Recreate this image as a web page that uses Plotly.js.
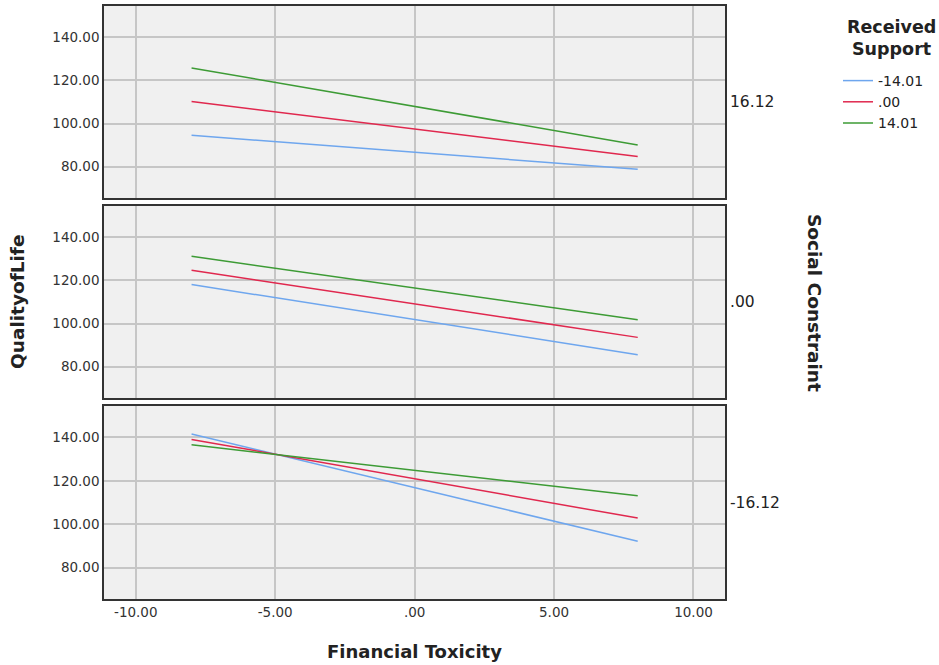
<!DOCTYPE html>
<html>
<head>
<meta charset="utf-8">
<script src="https://cdn.plot.ly/plotly-3.0.1.min.js"></script>
<style>html,body{margin:0;padding:0;background:#fff;}#chart{width:939px;height:665px;}</style>
</head>
<body>
<div id="chart"></div>
<script>
// Data
const financialToxicity = [-8, 8];
const supportLevels = ['-14.01', '.00', '14.01'];
const constraintLabels = ['16.12', '.00', '-16.12']; // top, middle, bottom panel
// Quality of life predicted values per panel, per support level [at -8, at 8]
const qolHighConstraint = { low: [94.6, 78.8], mid: [110.2, 84.7], high: [125.8, 90.1] };
const qolMidConstraint  = { low: [118.1, 85.6], mid: [124.7, 93.6], high: [131.2, 101.8] };
const qolLowConstraint  = { low: [141.6, 92.1], mid: [139.1, 102.8], high: [136.6, 113.1] };
const xTickVals = [-10, -5, 0, 5, 10];
const xTickText = ['-10.00', '-5.00', '.00', '5.00', '10.00'];
const yTickVals = [80, 100, 120, 140];
const yTickText = ['80.00', '100.00', '120.00', '140.00'];

const colors = ['#6ea6ee', '#e0284e', '#3d9b35'];
const keys = ['low', 'mid', 'high'];
const panels = [
  { data: qolHighConstraint, xa: 'x3', ya: 'y3' },
  { data: qolMidConstraint, xa: 'x2', ya: 'y2' },
  { data: qolLowConstraint, xa: 'x', ya: 'y' }
];

const traces = [];
panels.forEach((p, pi) => {
  keys.forEach((k, ki) => {
    traces.push({
      x: financialToxicity, y: p.data[k], xaxis: p.xa, yaxis: p.ya,
      type: 'scatter', mode: 'lines', name: supportLevels[ki],
      legendgroup: supportLevels[ki], showlegend: pi === 0,
      line: { color: colors[ki], width: 1.5 }, hoverinfo: 'skip'
    });
  });
});

const L = 104, R = 725, T = 6, B = 599;
const W = R - L, H = B - T;
const px = x => (x - L) / W;
const py = y => (B - y) / H;
const dom = (t, b) => [1 - b / H, 1 - t / H];
const font = { family: 'DejaVu Sans, sans-serif', color: '#222' };

function xax(show, anchor) {
  return {
    range: [-11.14, 11.13], tickvals: xTickVals, ticktext: xTickText,
    showticklabels: show, ticks: '', showgrid: true, gridcolor: '#c6c6c6', gridwidth: 1.5,
    zeroline: false, showline: true, mirror: true, linecolor: '#333', linewidth: 1.5,
    anchor: anchor, tickfont: { size: 13.5, family: font.family, color: '#333' }
  };
}
function yax(d, anchor) {
  return {
    domain: d, range: [65.5, 154.5], tickvals: yTickVals, ticktext: yTickText,
    ticks: '', showgrid: true, gridcolor: '#c6c6c6', gridwidth: 1.5,
    zeroline: false, showline: true, mirror: true, linecolor: '#333', linewidth: 1.5,
    anchor: anchor, tickfont: { size: 13.5, family: font.family, color: '#333' }
  };
}

const dTop = dom(0, 192), dMid = dom(200, 392), dBot = dom(400, 593);
const yc = d => (d[0] + d[1]) / 2;

const layout = {
  width: 939, height: 665,
  margin: { l: L, r: 939 - R, t: T, b: 665 - B },
  paper_bgcolor: '#fff', plot_bgcolor: '#f0f0f0',
  font: font,
  showlegend: true,
  legend: {
    x: px(838), y: py(65),
    xanchor: 'left', yanchor: 'top', bgcolor: 'rgba(0,0,0,0)',
    font: { size: 14, family: font.family, color: '#222' }, tracegroupgap: 0
  },
  xaxis: Object.assign(xax(true, 'y'), {
    title: { text: 'Financial Toxicity', font: { size: 18, family: font.family, color: '#222', weight: 'bold' }, standoff: 26 }
  }),
  xaxis2: Object.assign(xax(false, 'y2'), { matches: 'x' }),
  xaxis3: Object.assign(xax(false, 'y3'), { matches: 'x' }),
  yaxis: yax(dBot, 'x'),
  yaxis2: yax(dMid, 'x2'),
  yaxis3: yax(dTop, 'x3'),
  annotations: [
    { text: constraintLabels[0], xref: 'paper', yref: 'paper', x: 1, y: yc(dTop), xanchor: 'left', yanchor: 'middle', xshift: 3, showarrow: false, font: { size: 15.5, color: '#222' } },
    { text: constraintLabels[1], xref: 'paper', yref: 'paper', x: 1, y: yc(dMid), xanchor: 'left', yanchor: 'middle', xshift: 3, showarrow: false, font: { size: 15.5, color: '#222' } },
    { text: constraintLabels[2], xref: 'paper', yref: 'paper', x: 1, y: yc(dBot), xanchor: 'left', yanchor: 'middle', xshift: 3, showarrow: false, font: { size: 15.5, color: '#222' } },
    { text: '<b>Social Constraint</b>', xref: 'paper', yref: 'paper', x: px(815), y: py(303), xanchor: 'center', yanchor: 'middle', textangle: 90, showarrow: false, font: { size: 18.5, color: '#222' } },
    { text: '<b>QualityofLife</b>', xref: 'paper', yref: 'paper', x: px(17), y: py(302), xanchor: 'center', yanchor: 'middle', textangle: -90, showarrow: false, font: { size: 18.5, color: '#222' } },
    { text: '<b>Received</b>', xref: 'paper', yref: 'paper', x: px(891), y: py(27), xanchor: 'center', yanchor: 'middle', showarrow: false, font: { size: 17.5, color: '#222' } },
    { text: '<b>Support</b>', xref: 'paper', yref: 'paper', x: px(891), y: py(49), xanchor: 'center', yanchor: 'middle', showarrow: false, font: { size: 17.5, color: '#222' } }
  ]
};

Plotly.newPlot('chart', traces, layout, { displayModeBar: false, responsive: false });
</script>
</body>
</html>
